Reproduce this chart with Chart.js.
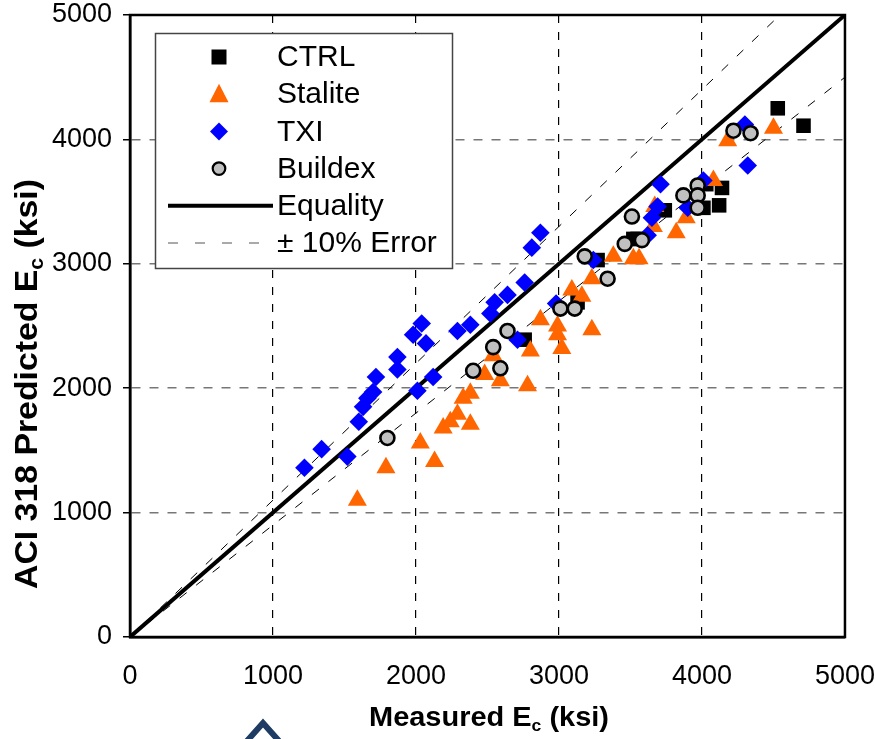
<!DOCTYPE html>
<html>
<head>
<meta charset="utf-8">
<script src="https://cdn.jsdelivr.net/npm/chart.js@4/dist/chart.umd.min.js"></script>
<style>
html, body { margin: 0; padding: 0; background: #fff; }
#wrap { position: relative; width: 875px; height: 739px; }
</style>
</head>
<body>
<div id="wrap"><canvas id="chart" width="875" height="739"></canvas></div>
<script>
// Axis ticks
const tickValues = [0, 1000, 2000, 3000, 4000, 5000];

// CTRL mixes
const ctrlMeasured  = [2760, 3130, 3270, 3520, 3550, 3740, 4010, 4030, 4120, 4140, 4530, 4710];
const ctrlPredicted = [2390, 2690, 3030, 3200, 3200, 3430, 3450, 3640, 3470, 3610, 4250, 4110];

// Stalite mixes
const staliteMeasured  = [1590, 1790, 2030, 2130, 2190, 2240, 2290, 2330, 2380, 2380, 2480, 2540, 2590, 2780, 2800, 2870, 2990, 2990, 3020, 3090, 3160, 3230, 3230, 3380, 3520, 3560, 3660, 3670, 3820, 3890, 4080, 4180, 4500];
const stalitePredicted = [1100, 1360, 1560, 1410, 1680, 1730, 1790, 1920, 1960, 1710, 2110, 2260, 2060, 2020, 2300, 2550, 2500, 2430, 2320, 2790, 2740, 2880, 2470, 3060, 3040, 3040, 3300, 3460, 3250, 3370, 3670, 3990, 4090];

// TXI mixes
const txiMeasured  = [1220, 1340, 1520, 1600, 1630, 1660, 1700, 1720, 1870, 1870, 1980, 2040, 2070, 2010, 2120, 2290, 2380, 2520, 2550, 2640, 2760, 2810, 2870, 2710, 2980, 3240, 3620, 3650, 3690, 3710, 3900, 4010, 4300, 4320];
const txiPredicted = [1360, 1510, 1450, 1730, 1850, 1920, 1970, 2090, 2250, 2150, 2430, 2520, 2360, 1980, 2090, 2460, 2510, 2600, 2690, 2750, 2850, 3130, 3250, 2390, 2680, 3030, 3230, 3370, 3460, 3640, 3450, 3670, 4120, 3790];

// Buildex mixes
const buildexMeasured  = [1800, 2400, 2590, 2540, 2640, 3010, 3110, 3180, 3340, 3460, 3510, 3580, 3870, 3970, 3970, 3970, 4220, 4340];
const buildexPredicted = [1600, 2140, 2160, 2330, 2460, 2640, 2640, 3060, 2880, 3160, 3380, 3190, 3550, 3630, 3550, 3450, 4070, 4050];

// Reference lines (end points)
const equalityX = [0, 5000];
const equalityY = [0, 5000];
const upperErrX = [0, 4545];
const upperErrY = [0, 5000];
const lowerErrX = [0, 5000];
const lowerErrY = [0, 4500];

function pts(xs, ys) {
    return xs.map((x, i) => ({ x: x, y: ys[i] }));
}

const tickFont = "'Liberation Sans', Arial, sans-serif";
const edgeTick = c => c.tick && (c.tick.value === 0 || c.tick.value === 5000);

// Legend drawn inside the plot, top-left
const legendRows = [
    { label: 'CTRL', kind: 'rect', color: '#000000' },
    { label: 'Stalite', kind: 'triangle', color: '#FF6600' },
    { label: 'TXI', kind: 'diamond', color: '#0000FF' },
    { label: 'Buildex', kind: 'circle', color: '#C0C0C0' },
    { label: 'Equality', kind: 'line' },
    { label: '\u00B1 10% Error', kind: 'dash' }
];

function drawMarker(ctx, kind, color, x, y) {
    ctx.beginPath();
    if (kind === 'rect') {
        ctx.rect(x - 7.5, y - 7.5, 15, 15);
        ctx.fillStyle = color; ctx.fill();
    } else if (kind === 'triangle') {
        ctx.moveTo(x, y - 10.5);
        ctx.lineTo(x + 9.5, y + 8);
        ctx.lineTo(x - 9.5, y + 8);
        ctx.closePath();
        ctx.fillStyle = color; ctx.fill();
    } else if (kind === 'diamond') {
        ctx.moveTo(x, y - 9); ctx.lineTo(x + 9, y); ctx.lineTo(x, y + 9); ctx.lineTo(x - 9, y);
        ctx.closePath();
        ctx.fillStyle = color; ctx.fill();
    } else if (kind === 'circle') {
        ctx.arc(x, y, 6.3, 0, Math.PI * 2);
        ctx.fillStyle = color; ctx.fill();
        ctx.lineWidth = 2.2; ctx.strokeStyle = '#000'; ctx.stroke();
    }
}

const boxLegend = {
    id: 'boxLegend',
    afterDatasetsDraw(chart) {
        const ctx = chart.ctx;
        const area = chart.chartArea;
        ctx.save();
        // plot frame
        ctx.strokeStyle = '#000';
        ctx.lineWidth = 2.5;
        ctx.strokeRect(area.left, area.top, area.right - area.left, area.bottom - area.top);
        // legend box
        ctx.fillStyle = '#fff';
        ctx.fillRect(155.5, 33.5, 297, 235);
        ctx.strokeStyle = '#444';
        ctx.lineWidth = 1.5;
        ctx.strokeRect(155.5, 33.5, 297, 235);
        ctx.font = "30px " + tickFont;
        ctx.textBaseline = 'middle';
        ctx.textAlign = 'left';
        legendRows.forEach((r, i) => {
            const y = 57 + i * 37.2;
            if (r.kind === 'line') {
                ctx.beginPath(); ctx.moveTo(168, y); ctx.lineTo(273, y);
                ctx.lineWidth = 4; ctx.strokeStyle = '#000'; ctx.setLineDash([]); ctx.stroke();
            } else if (r.kind === 'dash') {
                ctx.beginPath(); ctx.moveTo(168, y); ctx.lineTo(273, y);
                ctx.lineWidth = 1; ctx.strokeStyle = '#555'; ctx.setLineDash([10, 17]); ctx.stroke();
                ctx.setLineDash([]);
            } else {
                drawMarker(ctx, r.kind, r.color, 219, y);
            }
            ctx.fillStyle = '#000';
            ctx.fillText(r.label, 277, y + 1);
        });
        ctx.restore();
    }
};

// Axis titles with subscript c
function drawTitle(ctx, parts, cx, cy, rotate, size, targetW) {
    ctx.save();
    ctx.translate(cx, cy);
    if (rotate) ctx.rotate(-Math.PI / 2);
    const big = "bold " + size + "px " + tickFont;
    const small = "bold " + Math.round(size * 0.62) + "px " + tickFont;
    let w = 0;
    parts.forEach(p => { ctx.font = p[1] ? small : big; w += ctx.measureText(p[0]).width; });
    const sx = targetW / w;
    ctx.scale(sx, 1);
    let x = -w / 2;
    ctx.textBaseline = 'middle';
    ctx.fillStyle = '#000';
    parts.forEach(p => {
        ctx.font = p[1] ? small : big;
        ctx.fillText(p[0], x, p[1] ? size * 0.3 : 0);
        x += ctx.measureText(p[0]).width;
    });
    ctx.restore();
}

const axisTitles = {
    id: 'axisTitles',
    afterDraw(chart) {
        const ctx = chart.ctx;
        drawTitle(ctx, [['Measured E', false], ['c', true], [' (ksi)', false]], 489, 718, false, 28, 240);
        drawTitle(ctx, [['ACI 318 Predicted E', false], ['c', true], [' (ksi)', false]], 28, 384, true, 32, 410);
        // slide chevron below the plot
        ctx.save();
        ctx.beginPath();
        ctx.moveTo(247, 741); ctx.lineTo(263, 723); ctx.lineTo(279, 741);
        ctx.lineWidth = 6; ctx.strokeStyle = '#1d3b63'; ctx.lineJoin = 'miter';
        ctx.stroke();
        ctx.restore();
    }
};

new Chart(document.getElementById('chart'), {
    type: 'scatter',
    data: {
        datasets: [
            { label: 'CTRL', data: pts(ctrlMeasured, ctrlPredicted), pointStyle: 'rect', pointRadius: 10.3,
              backgroundColor: '#000', borderWidth: 0, order: 4 },
            { label: 'Stalite', data: pts(staliteMeasured, stalitePredicted), pointStyle: 'triangle', pointRadius: 11,
              backgroundColor: '#FF6600', borderWidth: 0, order: 3 },
            { label: 'TXI', data: pts(txiMeasured, txiPredicted), pointStyle: 'rectRot', pointRadius: 9.3,
              backgroundColor: '#0000FF', borderWidth: 0, order: 2 },
            { label: 'Buildex', data: pts(buildexMeasured, buildexPredicted), pointStyle: 'circle', pointRadius: 7,
              backgroundColor: '#C0C0C0', borderColor: '#000', borderWidth: 2.6, order: 1 },
            { label: 'Equality', data: pts(equalityX, equalityY), showLine: true, pointRadius: 0,
              borderColor: '#000', borderWidth: 4, order: 5 },
            { label: '+10%', data: pts(upperErrX, upperErrY), showLine: true, pointRadius: 0,
              borderColor: '#000', borderWidth: 1, borderDash: [9, 12], order: 6 },
            { label: '-10%', data: pts(lowerErrX, lowerErrY), showLine: true, pointRadius: 0,
              borderColor: '#000', borderWidth: 1, borderDash: [9, 12], order: 6 }
        ]
    },
    options: {
        responsive: false,
        devicePixelRatio: 1,
        animation: false,
        layout: { padding: { left: 0, top: 15, right: 30, bottom: 0 } },
        plugins: { legend: { display: false }, tooltip: { enabled: false } },
        scales: {
            x: {
                type: 'linear', min: 0, max: 5000,
                afterFit: s => { s.height = 102; },
                afterBuildTicks: s => { s.ticks = tickValues.map(v => ({ value: v })); },
                ticks: { color: '#000', font: { family: tickFont, size: 27, lineHeight: 1 }, padding: 0, maxRotation: 0,
                         callback: v => String(v) },
                grid: { color: c => edgeTick(c) ? 'rgba(0,0,0,0)' : '#000', lineWidth: 1.2,
                        drawTicks: true, tickLength: 26, tickColor: 'rgba(0,0,0,0)' },
                border: { color: '#000', width: 2.5, dash: [8, 9] }
            },
            y: {
                type: 'linear', min: 0, max: 5000,
                afterFit: s => { s.width = 130; },
                afterBuildTicks: s => { s.ticks = tickValues.map(v => ({ value: v })); },
                ticks: { color: '#000', font: { family: tickFont, size: 27, lineHeight: 1 }, padding: 0,
                         callback: v => String(v) },
                grid: { color: c => edgeTick(c) ? 'rgba(0,0,0,0)' : '#777', lineWidth: 1.5,
                        tickLength: 18, tickColor: '#000', tickWidth: 1.5, tickBorderDash: [0, 11, 6, 60] },
                border: { color: '#000', width: 2.5, dash: [9, 9] }
            }
        }
    },
    plugins: [boxLegend, axisTitles]
});
</script>
</body>
</html>
